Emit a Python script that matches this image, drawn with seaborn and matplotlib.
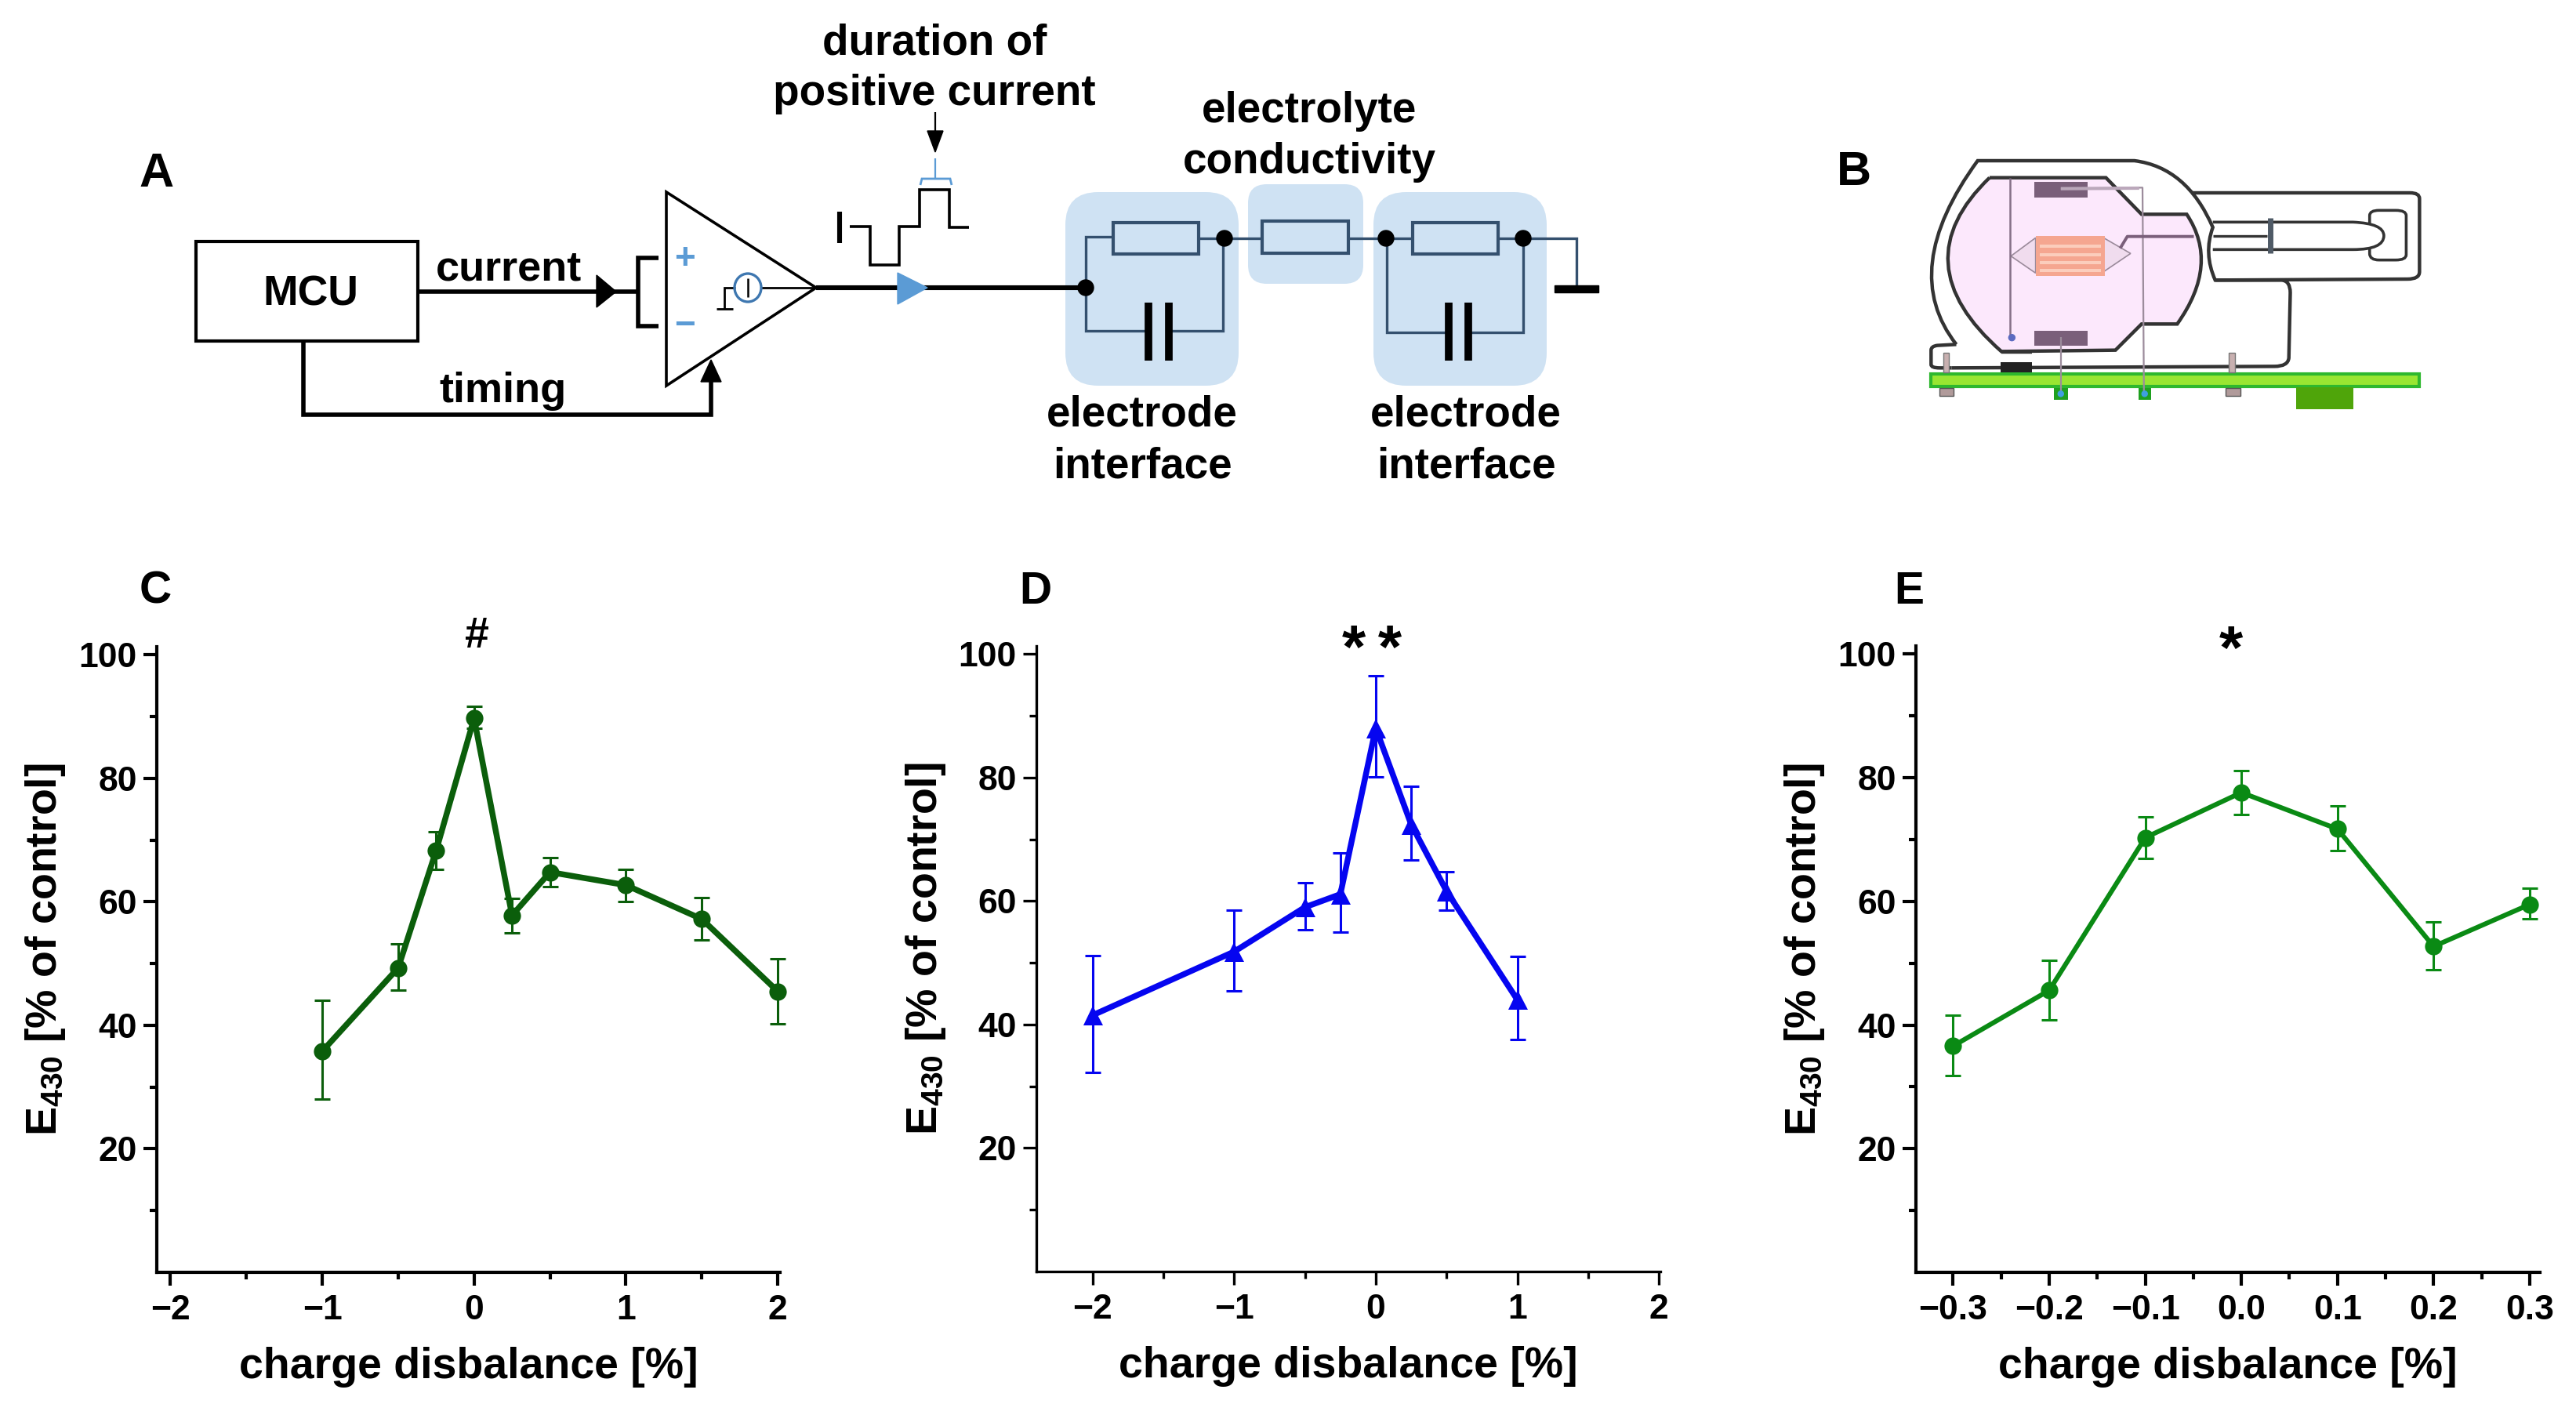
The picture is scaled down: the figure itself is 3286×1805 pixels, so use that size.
import numpy as np
import pandas as pd
import matplotlib
matplotlib.use("Agg")
import matplotlib.pyplot as plt
import seaborn as sns
from matplotlib.patches import Circle, Ellipse, FancyBboxPatch, PathPatch, Polygon, Rectangle
from matplotlib.path import Path
from matplotlib.ticker import FixedFormatter, FixedLocator

# panel C
c_x = [-1, -0.5, -0.25, 0, 0.25, 0.5, 1, 1.5, 2]
c_mean = [35.8, 49.3, 68.3, 89.7, 57.8, 64.8, 62.7, 57.2, 45.5]
c_low = [28.0, 45.7, 65.2, 88.1, 55.0, 62.4, 60.1, 53.8, 40.3]
c_high = [44.0, 53.2, 71.3, 91.7, 60.5, 67.2, 65.2, 60.7, 50.8]

# panel D
d_x = [-2, -1, -0.5, -0.25, 0, 0.25, 0.5, 1]
d_mean = [41.5, 51.8, 59.0, 61.1, 88.0, 72.4, 61.6, 44.0]
d_low = [32.3, 45.5, 55.4, 55.0, 80.1, 66.6, 58.5, 37.6]
d_high = [51.2, 58.5, 63.0, 67.8, 96.5, 78.6, 64.8, 51.0]

# panel E
e_x = [-0.3, -0.2, -0.1, 0.0, 0.1, 0.2, 0.3]
e_mean = [36.6, 45.6, 70.3, 77.6, 71.7, 52.7, 59.5]
e_low = [31.8, 40.8, 67.0, 74.0, 68.2, 49.0, 57.2]
e_high = [41.6, 50.5, 73.7, 81.1, 75.4, 56.7, 62.1]

y_major = [20, 40, 60, 80, 100]
y_minor = [10, 30, 50, 70, 90]
int_ticks = [-2, -1, 0, 1, 2]
int_labels = ["\u22122", "\u22121", "0", "1", "2"]
half_ticks = [-1.5, -0.5, 0.5, 1.5]
dec_ticks = [-0.3, -0.2, -0.1, 0.0, 0.1, 0.2, 0.3]
dec_labels = ["\u22120.3", "\u22120.2", "\u22120.1", "0.0", "0.1", "0.2", "0.3"]
dec_minor = [-0.25, -0.15, -0.05, 0.05, 0.15, 0.25]

W, H = 3287, 1805
BLUE = "#5B9BD5"
PALE = "#CFE2F3"
WIRE = "#34506E"
FONT = ["Liberation Sans", "DejaVu Sans"]

sns.set_theme(style="ticks")
plt.rcParams["font.family"] = FONT
plt.rcParams["font.weight"] = "bold"
plt.rcParams["mathtext.default"] = "regular"

fig = plt.figure(figsize=(W / 100, H / 100), dpi=100, facecolor="white")
bg = fig.add_axes([0, 0, 1, 1])
bg.set_xlim(0, W)
bg.set_ylim(H, 0)
bg.axis("off")


def wire(xs, ys, color="black", lw=4.0, z=3):
    bg.plot(xs, ys, color=color, lw=lw, solid_capstyle="butt", solid_joinstyle="miter", zorder=z)


def label(x, y, s, size=39, **kw):
    bg.text(x, y, s, fontsize=size, ha="center", va="center", color="black", zorder=6, **kw)


def panel(left, right, top, bottom, x, mean, low, high, color, marker, ms, lw, xlim, ticks, tick_labels, minor, spine, ylab_x):
    ax = fig.add_axes([left / W, 1 - bottom / H, (right - left) / W, (bottom - top) / H])
    ax.patch.set_alpha(0)
    df = pd.DataFrame({"x": x, "y": mean})
    m, lo, hi = np.array(mean), np.array(low), np.array(high)
    ax.errorbar(x, mean, yerr=[m - lo, hi - m], fmt="none", ecolor=color, elinewidth=2.2,
                capsize=7, capthick=2.2, zorder=2)
    sns.lineplot(data=df, x="x", y="y", ax=ax, color=color, linewidth=lw, marker=marker,
                 markersize=ms, markeredgecolor=color, markeredgewidth=0, errorbar=None, zorder=3)
    # the last points sit on the axis end, keep them whole
    for art in list(ax.lines) + list(ax.collections):
        art.set_clip_on(False)
    ax.set_xlim(*xlim)
    ax.set_ylim(0, 101.3)
    ax.yaxis.set_major_locator(FixedLocator(y_major))
    ax.yaxis.set_minor_locator(FixedLocator(y_minor))
    ax.xaxis.set_major_locator(FixedLocator(ticks))
    ax.xaxis.set_major_formatter(FixedFormatter(tick_labels))
    ax.xaxis.set_minor_locator(FixedLocator(minor))
    ax.tick_params(which="major", length=12, width=spine, labelsize=32, pad=6, color="black", labelcolor="black")
    ax.tick_params(axis="x", which="major", pad=8)
    ax.tick_params(which="minor", length=6.5, width=spine, color="black")
    sns.despine(ax=ax)
    for side in ("left", "bottom"):
        ax.spines[side].set_linewidth(spine)
        ax.spines[side].set_color("black")
    ax.set_xlabel("charge disbalance [%]", fontsize=40, fontweight="bold", labelpad=19, color="black")
    ax.set_ylabel("E$_{430}$ [% of control]", fontsize=40, fontweight="bold", color="black")
    ax.yaxis.set_label_coords((ylab_x - left) / (right - left), 0.516)
    return ax


panel(200, 995, 825, 1623, c_x, c_mean, c_low, c_high, "#0B5E0B", "o", 16, 5.4,
      (-2.09, 2.015), int_ticks, int_labels, half_ticks, 3, 86)
panel(1322, 2118, 824, 1622, d_x, d_mean, d_low, d_high, "#0505F0", "^", 18, 5.4,
      (-2.397, 2.01), int_ticks, int_labels, half_ticks, 2.4, 1209)
panel(2444, 3240, 824, 1623, e_x, e_mean, e_low, e_high, "#0A8A14", "o", 16, 4.4,
      (-0.3387, 0.3107), dec_ticks, dec_labels, dec_minor, 3, 2330)

# significance marks and panel letters
label(608, 812, "#", size=40)
label(1750, 832, "*\u2009*", size=56)
label(2846, 832, "*", size=56)
label(200, 223, "A", size=44)
label(2365, 220, "B", size=44)
label(198, 755, "C", size=41)
label(1321, 755, "D", size=41)
label(2435, 755, "E", size=41)

# panel A: MCU and current source
bg.add_patch(Rectangle((250, 308), 283, 127, fill=False, ec="black", lw=3, zorder=3))
label(396, 376, "MCU", size=38.5)
label(649, 343, "current")
label(642, 499, "timing")
wire([533, 770, 814], [372, 372, 372])
bg.add_patch(Polygon([(761, 351), (786, 372), (761, 392)], color="black", zorder=4))
wire([840, 814, 814, 840], [329, 329, 416, 416])
bg.add_patch(Polygon([(850, 245), (850, 492), (1041, 367)], fill=False, ec="black", lw=2.6, zorder=3))
bg.text(874, 331, "+", fontsize=33, ha="center", va="center", color=BLUE, zorder=6)
bg.text(874, 416, "\u2212", fontsize=33, ha="center", va="center", color=BLUE, zorder=6)
bg.add_patch(Ellipse((954, 367), 34, 36, fill=False, ec="#3E77B0", lw=2.4, zorder=4))
wire([954, 954], [355, 379], lw=1.8)
wire([914, 935], [394, 394], lw=2)
wire([924, 924, 938], [394, 367, 367], lw=2)
wire([971, 1041], [367, 367], lw=2)
wire([387, 387, 907, 907], [435, 529, 529, 480], lw=4)
bg.add_patch(Polygon([(894, 487), (907, 459), (920, 487)], color="black", zorder=4))
wire([1041, 1385], [367, 367], lw=4.4)
bg.add_patch(Polygon([(1145, 348), (1145, 388), (1183, 367)], color=BLUE, zorder=5))

# pulse waveform
wire([1071, 1071], [270, 310], lw=4.4)
wire([1084, 1110, 1110, 1147, 1147, 1173, 1173, 1211, 1211, 1236],
     [289, 289, 338, 338, 289, 289, 242, 242, 290, 290], lw=2.6)
wire([1174, 1176, 1212, 1214], [236, 228, 228, 236], color=BLUE, lw=2)
wire([1193, 1193], [228, 202], color=BLUE, lw=1.6)
wire([1193, 1193], [143, 170], lw=1.6)
bg.add_patch(Polygon([(1183, 167), (1193, 194), (1203, 167)], color="black", zorder=4))
label(1192, 55, "duration of", size=39.5)
label(1192, 120, "positive current", size=39.5)
label(1670, 142, "electrolyte", size=39.5)
label(1670, 207, "conductivity", size=39.5)
for cx in (1457, 1870):
    label(cx, 530, "electrode", size=39.5)
    label(cx, 596, "interface", size=39.5)

# equivalent circuit
for x0, y0, w, h, r in [(1359, 245, 221, 247, 42), (1592, 235, 147, 127, 24), (1752, 245, 221, 247, 42)]:
    bg.add_patch(FancyBboxPatch((x0 + r, y0 + r), w - 2 * r, h - 2 * r, boxstyle=f"round,pad={r},rounding_size={r}",
                                fc=PALE, ec="none", zorder=1))
for x0, x1, y0, y1 in [(1420, 1529, 284, 324), (1610, 1720, 282, 323), (1802, 1911, 284, 324)]:
    bg.add_patch(Rectangle((x0, y0), x1 - x0, y1 - y0, fill=False, ec=WIRE, lw=3, zorder=3))
wire([1385, 1385, 1420], [367, 302, 302], WIRE, 2.4)
wire([1529, 1610], [304, 304], WIRE, 2.4)
wire([1720, 1802], [304, 304], WIRE, 2.4)
wire([1911, 2011, 2011], [304, 304, 367], WIRE, 2.4)
wire([1385, 1385, 1465], [367, 422, 422], WIRE, 2.4)
wire([1560, 1560, 1491], [304, 422, 422], WIRE, 2.4)
wire([1769, 1769, 1848], [304, 424, 424], WIRE, 2.4)
wire([1943, 1943, 1873], [304, 424, 424], WIRE, 2.4)
for cx in (1465, 1491, 1848, 1873):
    wire([cx, cx], [386, 460], lw=7)
for cx, cy in [(1385, 367), (1562, 304), (1768, 304), (1943, 304)]:
    bg.add_patch(Ellipse((cx, cy), 20, 20, color="black", zorder=5))
bg.add_patch(Rectangle((1983, 364), 56, 9, color="black", zorder=5))


# panel B: cell drawing, coordinates taken from the crop
def b(x, y):
    return 2250 + x / 1.65, 150 + y / 3


def outline(cmds, fc="none", ec="#333333", lw=3.2, z=3):
    verts, codes = [], []
    for c in cmds:
        if len(c) == 2:
            verts.append(b(*c))
            codes.append(Path.LINETO if verts[:-1] else Path.MOVETO)
        else:
            verts += [b(c[0], c[1]), b(c[2], c[3])]
            codes += [Path.CURVE3, Path.CURVE3]
    bg.add_patch(PathPatch(Path(verts, codes), fc=fc, ec=ec, lw=lw, zorder=z))


def brect(x0, y0, x1, y1, fc, ec="none", lw=0, z=4):
    (a, c), (d, e) = b(x0, y0), b(x1, y1)
    bg.add_patch(Rectangle((a, c), d - a, e - c, fc=fc, ec=ec, lw=lw, zorder=z))


def bline(xs, ys, color, lw, z=5):
    pts = [b(x, y) for x, y in zip(xs, ys)]
    bg.plot(*zip(*pts), color=color, lw=lw, solid_capstyle="butt", zorder=z)


outline([(475, 230), (720, 230), (795, 370), (890, 370), (960, 560, 870, 790), (795, 790), (740, 890),
         (500, 895), (288, 557, 475, 230)], fc="#FCE8FC")
outline([(405, 868), (282, 583, 450, 165), (780, 165), (890, 190, 945, 420), (925, 520, 950, 622),
         (1090, 622), (1108, 625, 1108, 670), (1105, 920), (1103, 952, 1075, 952), (395, 958)])
outline([(405, 868), (365, 872), (352, 875, 352, 890), (352, 945), (352, 958, 370, 958), (395, 958)])
outline([(900, 288), (1360, 288), (1380, 288, 1380, 310), (1380, 590), (1380, 618, 1355, 618), (950, 622)])
outline([(945, 400), (1240, 400), (1305, 405, 1305, 452), (1305, 505, 1240, 505), (945, 505)], lw=2.6)
outline([(1275, 405), (1275, 375), (1275, 355, 1295, 355), (1330, 355), (1352, 355, 1352, 375), (1352, 525),
         (1352, 545, 1330, 545), (1295, 545), (1275, 545, 1275, 520), (1275, 503)], lw=2.6)
bline([945, 1060], [452, 452], "#333333", 2.4)
bline([1066, 1066], [385, 520], "#4F5A66", 5)
brect(570, 245, 682, 305, "#7A5F7A")
brect(570, 815, 682, 872, "#7A5F7A")
for pts in ([(520, 530), (572, 460), (572, 595)], [(715, 460), (772, 520), (715, 590)]):
    bg.add_patch(Polygon([b(*p) for p in pts], fc="#F0DCEE", ec="#9A8A9A", lw=1.2, zorder=4))
brect(573, 452, 717, 605, "#F5A690")
for y in (487, 518, 549, 578):
    brect(580, y, 710, y + 12, "#FBCDBC", z=5)
bline([518, 518], [230, 840], "#857087", 1.8)
bg.add_patch(Circle(b(522, 842), 4, color="#5C6BC0", zorder=6))
bline([625, 797, 800], [272, 268, 1060], "#9C8C9C", 1.6)
bline([625, 790], [272, 270], "#BBA8BB", 3)
bline([750, 765, 905], [500, 455, 455], "#7A5F7A", 2.8)
bline([625, 625], [840, 1060], "#9C8C9C", 1.6)
brect(352, 980, 1380, 1030, "#99E632", ec="#2EB82E", lw=3, z=4)
brect(1120, 1032, 1240, 1115, "#4FA50A")
for x0, x1 in [(610, 640), (788, 815)]:
    brect(x0, 1035, x1, 1080, "#1FA01F")
    bg.add_patch(Circle(b((x0 + x1) / 2, 1057), 3.5, color="#3F9FE0", zorder=6))
for x0, x1 in [(370, 400), (972, 1003)]:
    brect(x0, 1035, x1, 1066, "#B09A9A", ec="#555555", lw=1)
for x0, x1 in [(378, 390), (978, 992)]:
    brect(x0, 900, x1, 975, "#C8B0B0", ec="#777777", lw=1)
brect(498, 935, 565, 975, "#222222")
bline([500, 565], [897, 897], "#333333", 3.2)

fig.savefig("out.png", dpi=100, facecolor="white")
